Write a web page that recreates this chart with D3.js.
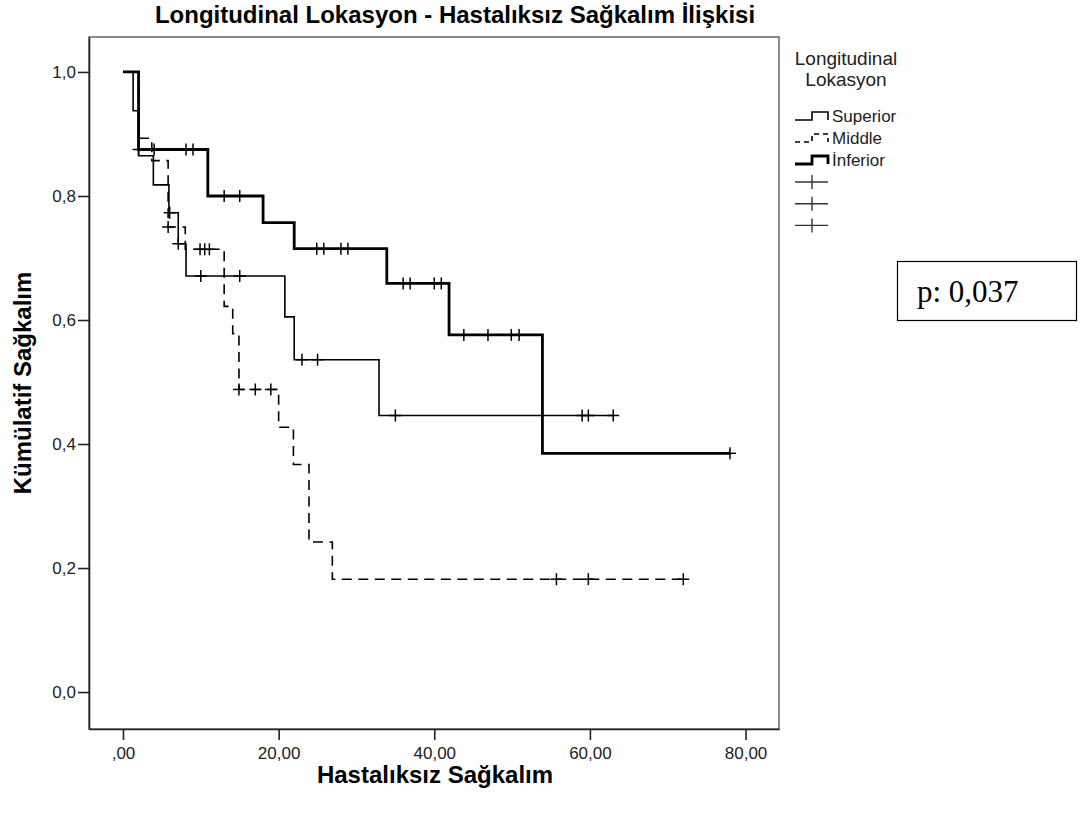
<!DOCTYPE html>
<html>
<head>
<meta charset="utf-8">
<script src="https://cdn.jsdelivr.net/npm/d3@7"></script>
<style>
  html, body { margin: 0; padding: 0; background: #fff; }
  svg { display: block; font-family: "Liberation Sans", Arial, sans-serif; }
</style>
</head>
<body>
<svg id="chart" width="1080" height="814"></svg>
<script>
// Kaplan–Meier curves: disease-free survival by longitudinal location
const groups = ["Superior", "Middle", "İnferior"];

// Event times (months) and survival after each step
const superiorTimes = [0, 1.3, 2.0, 3.9, 5.9, 7.1, 8.1, 20.8, 22.0, 32.9];
const superiorSurv  = [1.0, 0.9375, 0.865, 0.818, 0.773, 0.723, 0.671, 0.605, 0.536, 0.446];
const superiorEnd = 63;
const superiorCensored = [6.0, 7.1, 10, 15, 23, 25, 35, 59, 59.8, 63];

const middleTimes = [0, 2.0, 3.7, 5.8, 8.0, 13.0, 14.1, 14.9, 20.0, 21.9, 23.9, 26.9];
const middleSurv  = [1.0, 0.893, 0.857, 0.75, 0.714, 0.622, 0.578, 0.488, 0.427, 0.367, 0.242, 0.182];
const middleEnd = 72;
const middleCensored = [5.8, 9.9, 10.5, 11.1, 14.9, 17, 19, 55.7, 59.8, 72];

const inferiorTimes = [0, 2.0, 10.9, 18.0, 22.0, 33.9, 41.9, 53.9];
const inferiorSurv  = [1.0, 0.875, 0.8, 0.757, 0.715, 0.659, 0.576, 0.385];
const inferiorEnd = 78;
const inferiorCensored = [2.0, 4.0, 8.1, 9.0, 13, 15, 24.9, 25.8, 28, 28.9, 36, 36.9, 40, 40.9, 43.8, 46.9, 49.9, 50.9, 78];

const xTicks = [0, 20, 40, 60, 80];
const xTickLabels = [",00", "20,00", "40,00", "60,00", "80,00"];
const yTicks = [0, 0.2, 0.4, 0.6, 0.8, 1.0];
const yTickLabels = ["0,0", "0,2", "0,4", "0,6", "0,8", "1,0"];

const chartTitle = "Longitudinal Lokasyon - Hastalıksız Sağkalım İlişkisi";
const xTitle = "Hastalıksız Sağkalım";
const yTitle = "Kümülatif Sağkalım";
const legendTitle = ["Longitudinal", "Lokasyon"];
const pValueText = "p: 0,037";

const series = [
  { name: groups[0], t: superiorTimes, s: superiorSurv, end: superiorEnd, cens: superiorCensored, width: 1.6, dash: null },
  { name: groups[1], t: middleTimes, s: middleSurv, end: middleEnd, cens: middleCensored, width: 1.6, dash: "10,6.5" },
  { name: groups[2], t: inferiorTimes, s: inferiorSurv, end: inferiorEnd, cens: inferiorCensored, width: 2.8, dash: null }
];

const svg = d3.select("#chart");
const plot = { left: 89, right: 779, top: 37, bottom: 729 };

const x = d3.scaleLinear().domain([-4.37, 84.3]).range([plot.left, plot.right]);
const y = d3.scaleLinear().domain([-0.0596, 1.0564]).range([plot.bottom, plot.top]);

// Title
svg.append("text")
  .attr("x", 455).attr("y", 23)
  .attr("text-anchor", "middle")
  .attr("font-size", 24).attr("font-weight", "bold")
  .attr("fill", "#000")
  .text(chartTitle);

// Frame
svg.append("rect")
  .attr("x", plot.left).attr("y", plot.top)
  .attr("width", plot.right - plot.left).attr("height", plot.bottom - plot.top)
  .attr("fill", "none").attr("stroke", "#666").attr("stroke-width", 1.5);

// Axes
const xAxis = d3.axisBottom(x).tickValues(xTicks)
  .tickFormat((d, i) => xTickLabels[i]).tickSize(11).tickPadding(2).tickSizeOuter(0);
const gx = svg.append("g").attr("transform", `translate(0,${plot.bottom})`).call(xAxis);
gx.select(".domain").attr("stroke", "#222").attr("stroke-width", 1.6);
gx.selectAll(".tick line").attr("stroke", "#222").attr("stroke-width", 1.6);
gx.selectAll(".tick text").attr("font-size", 17).attr("fill", "#222")
  .attr("font-family", "Liberation Sans, Arial, sans-serif").attr("dy", "1.0em");

const yAxis = d3.axisLeft(y).tickValues(yTicks)
  .tickFormat(d => yTickLabels[yTicks.indexOf(d)]).tickSize(11).tickPadding(2).tickSizeOuter(0);
const gy = svg.append("g").attr("transform", `translate(${plot.left},0)`).call(yAxis);
gy.select(".domain").attr("stroke", "#222").attr("stroke-width", 1.6);
gy.selectAll(".tick line").attr("stroke", "#222").attr("stroke-width", 1.6);
gy.selectAll(".tick text").attr("font-size", 17).attr("fill", "#222")
  .attr("font-family", "Liberation Sans, Arial, sans-serif");

// Axis titles
svg.append("text")
  .attr("x", 435).attr("y", 783)
  .attr("text-anchor", "middle")
  .attr("font-size", 24).attr("font-weight", "bold")
  .text(xTitle);

svg.append("text")
  .attr("transform", "translate(31,383) rotate(-90)")
  .attr("text-anchor", "middle")
  .attr("font-size", 24).attr("font-weight", "bold")
  .text(yTitle);

// Survival step curves
function stepPoints(d) {
  const pts = [];
  for (let i = 0; i < d.t.length; i++) {
    if (i > 0) pts.push([d.t[i], d.s[i - 1]]);
    pts.push([d.t[i], d.s[i]]);
  }
  pts.push([d.end, d.s[d.s.length - 1]]);
  return pts;
}
function survAt(d, time) {
  let v = d.s[0];
  for (let i = 0; i < d.t.length; i++) if (d.t[i] <= time) v = d.s[i];
  return v;
}

const line = d3.line().x(p => x(p[0])).y(p => y(p[1]));
const curves = svg.append("g");
series.forEach(d => {
  curves.append("path")
    .attr("d", line(stepPoints(d)))
    .attr("fill", "none").attr("stroke", "#000")
    .attr("stroke-width", d.width)
    .attr("stroke-dasharray", d.dash)
    .attr("stroke-linejoin", "miter").attr("stroke-linecap", "butt");
  // censored cases
  const g = curves.append("g");
  d.cens.forEach(c => {
    const cx = x(c), cy = y(survAt(d, c));
    g.append("line").attr("x1", cx).attr("x2", cx).attr("y1", cy - 6).attr("y2", cy + 6)
      .attr("stroke", "#000").attr("stroke-width", 1.5);
    g.append("line").attr("x1", cx - 6).attr("x2", cx + 6).attr("y1", cy).attr("y2", cy)
      .attr("stroke", "#000").attr("stroke-width", 1.5);
  });
});

// Legend
const lg = svg.append("g");
legendTitle.forEach((t, i) => {
  lg.append("text").attr("x", 846).attr("y", 65 + i * 21)
    .attr("text-anchor", "middle").attr("font-size", 19).attr("fill", "#222").text(t);
});
series.forEach((d, i) => {
  const yy = 116 + i * 22;
  lg.append("path")
    .attr("d", `M795,${yy + 4} H812 V${yy - 4} H828 V${yy + 4}`)
    .attr("fill", "none").attr("stroke", "#000")
    .attr("stroke-width", d.width)
    .attr("stroke-dasharray", d.dash ? "5,4" : null);
  lg.append("text").attr("x", 832).attr("y", yy + 6)
    .attr("font-size", 17).attr("fill", "#222").text(d.name);
});
series.forEach((d, i) => {
  const yy = 182 + i * 21.7;
  lg.append("line").attr("x1", 795).attr("x2", 828).attr("y1", yy).attr("y2", yy)
    .attr("stroke", "#333").attr("stroke-width", 1.4);
  lg.append("line").attr("x1", 812).attr("x2", 812).attr("y1", yy - 7).attr("y2", yy + 7)
    .attr("stroke", "#333").attr("stroke-width", 1.4);
});

// p-value box
svg.append("rect")
  .attr("x", 897.5).attr("y", 261.5).attr("width", 179).attr("height", 59)
  .attr("fill", "#fff").attr("stroke", "#000").attr("stroke-width", 1.2);
svg.append("text")
  .attr("x", 917).attr("y", 302)
  .attr("font-family", "Liberation Serif, 'Times New Roman', serif")
  .attr("font-size", 31).attr("fill", "#000")
  .text(pValueText);
</script>
</body>
</html>
